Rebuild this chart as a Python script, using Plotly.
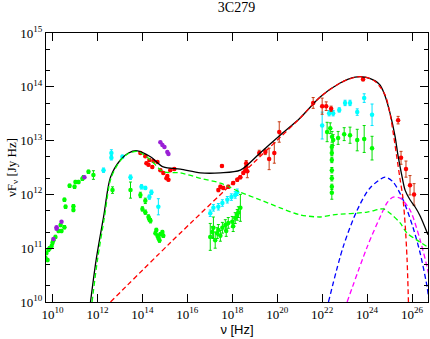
import numpy as np
import plotly.graph_objects as go

# --- data (log10 nu [Hz], log10 nuFnu [Jy Hz], error in dex) ---
green_lognu = [9.69, 9.73, 9.78, 9.82, 9.87, 9.96, 10.0, 10.04, 10.13, 10.27, 10.36, 10.4, 10.53, 10.53,
               10.58, 10.76, 10.93, 10.93, 10.98, 11.02, 11.16, 11.33, 11.38, 11.6, 11.82,
               12.67, 13.47, 13.91, 14.13, 14.0, 14.13, 14.27, 14.31, 14.36,
               14.58, 14.62, 14.67, 14.71, 14.76, 14.8, 14.89, 14.93,
               17.02, 17.11, 17.16, 17.24, 17.33, 17.38, 17.47, 17.56, 17.69, 17.73, 17.82, 18.0, 18.04,
               18.13, 18.22, 18.27, 18.36,
               22.22, 22.36, 22.44, 22.49, 22.71, 22.98, 23.24, 23.56, 23.87, 24.22,
               22.43, 22.43, 22.43, 22.43, 22.43, 22.43, 22.43]
green_logf = [10.82, 10.91, 10.78, 10.97, 11.0, 11.04, 11.10, 11.15, 11.21, 11.32, 11.43, 11.32, 11.39, 11.90,
              11.77, 12.16, 11.78, 11.71, 12.14, 12.23, 12.23, 12.29, 12.32, 12.42, 12.36,
              12.08, 12.08, 11.99, 11.88, 11.73, 11.67, 11.58, 11.54, 11.51,
              11.28, 11.34, 11.23, 11.19, 11.15, 11.26, 11.30, 11.23,
              11.21, 11.30, 11.38, 11.15, 11.28, 11.34, 11.23, 11.38, 11.43, 11.32, 11.47, 11.49, 11.41,
              11.56, 11.62, 11.67, 11.75,
              13.16, 13.23, 13.07, 13.01, 13.05, 13.12, 13.10, 13.01, 13.03, 12.86,
              12.88, 12.77, 12.64, 12.45, 12.30, 12.14, 12.03]
green_err = [0.03] * 24 + [0.08,
             0.06, 0.15, 0.05, 0.05, 0.04, 0.04, 0.04, 0.04, 0.04,
             0.03, 0.03, 0.03, 0.03, 0.04, 0.03, 0.03, 0.03,
             0.25, 0.1, 0.2, 0.15, 0.1, 0.1, 0.1, 0.1, 0.1, 0.1, 0.1, 0.1, 0.1,
             0.1, 0.1, 0.1, 0.25,
             0.18, 0.1, 0.1, 0.1, 0.12, 0.12, 0.15, 0.2, 0.25, 0.22,
             0.05, 0.05, 0.05, 0.05, 0.05, 0.05, 0.12]

cyan_lognu = [12.27, 12.62, 12.62, 13.11, 13.47, 13.96, 14.13, 14.4, 14.31, 14.71,
              17.02, 17.16, 17.38, 17.56, 17.78, 17.96, 18.13, 18.22,
              22.0, 22.31, 22.49, 22.76, 23.02, 23.24, 23.56, 23.87, 24.22]
cyan_logf = [12.45, 12.77, 12.68, 12.70, 12.32, 12.14, 12.12, 12.04, 11.95, 11.77,
             11.65, 11.75, 11.77, 11.84, 11.90, 11.95, 11.99, 12.04,
             13.28, 13.51, 13.51, 13.57, 13.70, 13.70, 13.53, 13.79, 13.48]
cyan_err = [0.04, 0.06, 0.04, 0.03, 0.04, 0.04, 0.03, 0.04, 0.04, 0.15,
            0.06, 0.06, 0.06, 0.06, 0.06, 0.06, 0.06, 0.06,
            0.25, 0.05, 0.05, 0.04, 0.05, 0.05, 0.06, 0.08, 0.2]

red_lognu = [13.91, 14.13, 14.18, 14.31, 14.27, 14.44, 14.49, 14.67, 14.8, 14.93, 15.07, 15.16, 15.24, 15.42, 15.11,
             17.54, 17.38, 17.47, 17.6, 17.82, 18.04, 18.22, 18.36, 18.49, 18.58, 18.62, 18.62, 18.67,
             19.2, 19.47, 19.64, 19.87, 20.09, 21.6, 22.0, 22.18, 22.4, 23.82,
             25.38, 25.51, 25.73, 25.91, 26.09]
red_logf = [12.77, 12.71, 12.58, 12.64, 12.55, 12.51, 12.62, 12.60, 12.45, 12.40, 12.30, 12.27, 12.45, 12.47, 12.34,
            12.53, 12.08, 12.14, 12.12, 12.14, 12.21, 12.27, 12.32, 12.40, 12.45, 12.51, 12.58, 12.43,
            12.77, 12.79, 12.66, 12.77, 13.16, 13.70, 13.64, 13.64, 13.59, 14.14,
            13.38, 12.68, 12.47, 12.17, 12.00]
red_err = [0.02] * 15 + [0.02, 0.03, 0.03, 0.03, 0.03, 0.03, 0.03, 0.03, 0.03, 0.04, 0.05, 0.05, 0.12,
                         0.05, 0.05, 0.2, 0.19, 0.19, 0.1, 0.15, 0.08, 0.05, 0.03,
                         0.07, 0.12, 0.15, 0.18, 0.2]

purple_lognu = [10.04, 10.18, 10.18, 10.4, 11.42, 14.8, 14.89, 14.98, 15.11, 15.16]
purple_logf = [11.17, 11.39, 11.36, 11.49, 12.32, 12.97, 12.92, 12.88, 12.79, 12.75]

# model curves
total_lognu = [11.69, 11.94, 12.28, 12.58, 13.02, 13.38, 13.78, 14.36, 14.93, 15.69, 16.58, 17.47, 18.36,
               19.24, 20.13, 21.02, 21.91, 22.8, 23.47, 23.91, 24.36, 24.58, 24.8, 25.02, 25.24, 25.38,
               25.56, 25.69, 25.91, 26.13, 26.36, 26.71]
total_logf = [10.0, 10.78, 11.6, 12.32, 12.64, 12.77, 12.81, 12.70, 12.51, 12.47, 12.40, 12.40, 12.45,
              12.77, 13.10, 13.42, 13.81, 14.07, 14.18, 14.18, 14.11, 14.03, 13.83, 13.51, 13.09, 12.71,
              12.32, 12.08, 11.90, 11.77, 11.60, 11.25]

sync_lognu = [11.76, 12.0, 12.32, 12.6, 13.02, 13.38, 13.78, 14.36, 14.93, 15.69, 16.58, 17.47, 18.36,
              19.24, 20.13, 21.02, 21.91, 22.49, 24.0, 24.71, 25.02, 25.47, 25.78, 26.22, 26.71]
sync_logf = [10.0, 10.78, 11.6, 12.3, 12.63, 12.76, 12.80, 12.64, 12.42, 12.40, 12.30, 12.21, 12.04,
             11.90, 11.75, 11.62, 11.58, 11.62, 11.67, 11.73, 11.65, 11.47, 11.28, 11.15, 11.02]

ec_lognu = [12.58, 15.24, 18.93, 20.13, 21.02, 21.91, 22.8, 23.47, 23.91, 24.36, 24.8, 25.02, 25.17,
            25.32, 25.46, 25.59, 25.7, 25.78, 25.84]
ec_logf = [10.0, 11.10, 12.58, 13.06, 13.42, 13.81, 14.07, 14.18, 14.18, 14.10, 13.85, 13.5, 13.12,
           12.7, 12.3, 11.95, 11.4, 10.78, 10.0]

blue_lognu = [22.28, 22.93, 23.56, 24.13, 24.8, 25.16, 25.6, 26.04, 26.36, 26.67, 26.76]
blue_logf = [10.0, 11.02, 11.71, 12.12, 12.32, 12.23, 11.90, 11.39, 10.91, 10.28, 10.0]

magenta_lognu = [23.11, 24.0, 24.58, 24.9, 25.16, 25.47, 25.91, 26.36, 26.67, 26.9]
magenta_logf = [10.0, 11.02, 11.58, 11.85, 11.95, 11.93, 11.71, 11.15, 10.65, 10.2]

xtick_vals = [10, 12, 14, 16, 18, 20, 22, 24, 26]
ytick_vals = [10, 11, 12, 13, 14, 15]

SERIF = "Liberation Serif, serif"
SANS = "Liberation Sans, sans-serif"

fig = go.Figure()


def pw(a):
    return np.power(10.0, np.asarray(a, dtype=float))


def add_curve(lx, ly, color, dash):
    fig.add_trace(go.Scatter(
        x=pw(lx), y=pw(ly), mode='lines',
        line=dict(color=color, width=1.3, dash=dash, shape='spline', smoothing=0.8),
        showlegend=False, hoverinfo='skip'))


def add_points(lx, ly, err, color, ecolor):
    x = pw(lx)
    y = pw(ly)
    e = np.asarray(err, dtype=float)
    ly = np.asarray(ly, dtype=float)
    fig.add_trace(go.Scatter(
        x=x, y=y, mode='markers',
        marker=dict(color=color, size=4.5, line=dict(width=0)),
        error_y=dict(type='data', symmetric=False,
                     array=pw(ly + e) - y,
                     arrayminus=y - pw(ly - e),
                     color=ecolor, thickness=1, width=1.5),
        showlegend=False))


add_curve(blue_lognu, blue_logf, '#0000ff', '5px,3px')
add_curve(magenta_lognu, magenta_logf, '#ff00ff', '5px,3px')

add_points(green_lognu, green_logf, green_err, '#00ff00', '#00dd00')
add_points(cyan_lognu, cyan_logf, cyan_err, '#00ffff', '#00e5ff')
add_points(red_lognu, red_logf, red_err, '#ff0000', '#c83c14')
fig.add_trace(go.Scatter(
    x=pw(purple_lognu), y=pw(purple_logf), mode='markers',
    marker=dict(color='#9a1fd6', size=4.5, line=dict(width=0)), showlegend=False))

add_curve(total_lognu, total_logf, '#000000', 'solid')
add_curve(sync_lognu, sync_logf, '#00ff00', '5px,3px')
add_curve(ec_lognu, ec_logf, '#ff0000', '5px,3px')

fig.update_layout(
    width=430, height=339,
    margin=dict(l=46, r=2, t=33, b=37),
    paper_bgcolor='white', plot_bgcolor='white',
    title=dict(text='3C279', x=0.55, xanchor='center', y=0.995, yanchor='top',
               font=dict(family=SERIF, size=14, color='black')),
    font=dict(family=SERIF, size=12, color='black'),
)

fig.update_xaxes(
    type='log', range=[9.71, 26.71], automargin=False,
    tickvals=list(pw(xtick_vals)),
    ticktext=['10<sup>%d</sup>' % v for v in xtick_vals],
    ticks='inside', ticklen=8, tickcolor='black', tickwidth=1,
    showline=True, linecolor='black', linewidth=1, mirror='allticks',
    showgrid=False, zeroline=False,
    tickfont=dict(family=SERIF, size=13),
    title=dict(text='\u03bd [Hz]', font=dict(family=SANS, size=13), standoff=0),
)

fig.update_yaxes(
    type='log', range=[10, 15], automargin=False,
    tickvals=list(pw(ytick_vals)),
    ticktext=['10<sup>%d</sup>' % v for v in ytick_vals],
    ticks='inside', ticklen=8, tickcolor='black', tickwidth=1,
    minor=dict(ticks='inside', ticklen=4, tickcolor='black', tickwidth=1, showgrid=False),
    showline=True, linecolor='black', linewidth=1, mirror='allticks',
    showgrid=False, zeroline=False,
    tickfont=dict(family=SERIF, size=13),
    title=dict(text='\u03bdF<sub>\u03bd</sub> [Jy Hz]', font=dict(family=SERIF, size=13), standoff=0),
)

fig.write_html("out.html", config={'displayModeBar': False},
               post_script="document.body.style.margin='0';")
